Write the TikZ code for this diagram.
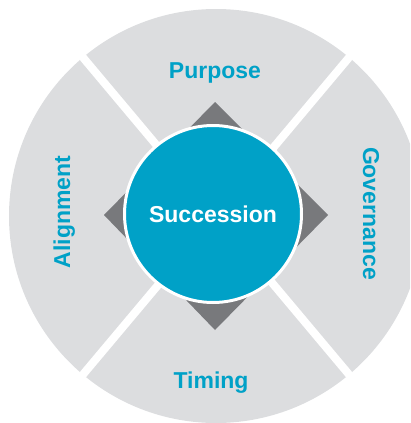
\documentclass[tikz,border=0pt]{standalone}
\usepackage{fontspec}
\setmainfont{Liberation Sans}
\usepackage{tikz}

\definecolor{succblue}{RGB}{0,161,199}
\definecolor{wheelgray}{RGB}{220,221,223}
\definecolor{diamgray}{RGB}{120,121,124}

\begin{document}
\begin{tikzpicture}[x=1pt,y=-1pt,
    wheellabel/.style={text=succblue, font=\bfseries\fontsize{23}{27}\selectfont, anchor=base}]

    \useasboundingbox (0,0) rectangle (410,423);
    \clip (0,0) rectangle (410,423);
    \coordinate (c) at (216,216);

    %roue
    \fill[wheelgray] (c) circle (207);
    \foreach \a in {50,130,230,310}{
        \draw[white, line width=8pt] (c) -- ++(\a:220);
    }

    %losange
    \fill[diamgray] (215,102) -- (328,215) -- (215,330) -- (104,215) -- cycle;

    %centre
    \node[circle, fill=succblue, draw=white, line width=3pt, minimum size=177pt,
        inner sep=0pt, text=white, font=\bfseries\fontsize{23}{27}\selectfont]
        (succession) at (213,214) {Succession};

    %etiquettes
    \node[wheellabel] (purpose) at (215,78.5) {Purpose};
    \node[wheellabel] (timing) at (211,388) {Timing};
    \node[wheellabel, rotate=-90] (governance) at (363,213.5) {Governance};
    \node[wheellabel, rotate=90] (alignment) at (70,212) {Alignment};

\end{tikzpicture}
\end{document}
